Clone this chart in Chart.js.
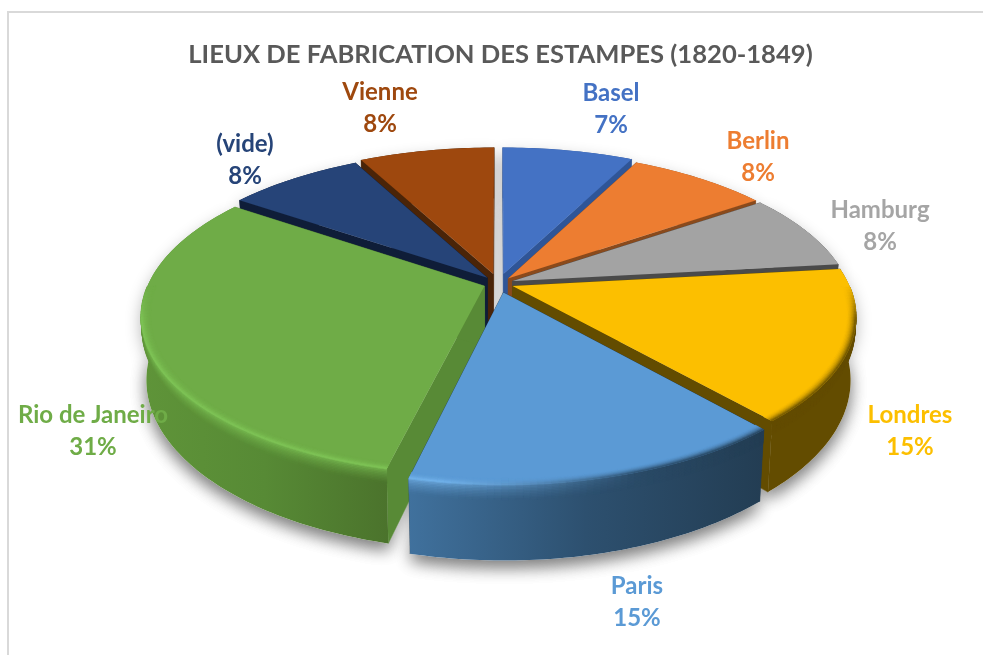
<!DOCTYPE html>
<html><head><meta charset="utf-8">
<style>html,body{margin:0;padding:0;background:#fff}canvas{display:block}</style>
<script src="https://cdn.jsdelivr.net/npm/chart.js@4"></script>
</head><body><canvas id="c" width="983" height="655"></canvas>
<script>
const categories = ['Basel','Berlin','Hamburg','Londres','Paris','Rio de Janeiro','(vide)','Vienne'];
const shares = [7.45,7.9,7.85,15.4,15.1,30.9,7.7,7.7];
const chartTitle = 'LIEUX DE FABRICATION DES ESTAMPES (1820-1849)';

const faceColors = ['#4472c4','#ed7d31','#a3a3a3','#fcbf00','#5b9ad5','#6fac47','#264478','#9e480e'];
const cutColors  = ['#2f5597','#8a4a1c','#4a4a4a','#634c00','#233d53','#588a36','#0f1d38','#4a2408'];
const wallStops  = [['#2f5597'],['#8a4a1c'],['#4a4a4a'],['#634c00'],['#40719d','#2d506f','#233d53'],
                    ['#5f9439','#578a35','#4b732c'],['#0f1d38'],['#4a2408']];
const rimLights  = ['#4472c4','#ed7d31','#a3a3a3','#634c00','#74b4ec','#7fc657','#264478','#9e480e'];
const explodeBy  = [22,15,15,15,20,15,17,22];
const labelCentres = [[611,92],[758,140],[880,209],[910,414],[637,585],[93,414],[245,143],[380,91]];

// view constants of the tilted drawing
const CX=498.5, CY=283.5, R0=336, PA=0.185/R0, PB=153/R0, DEPTH=61, FLOOR=0.985;
const total = shares.reduce((a,b)=>a+b,0);

const hex=h=>[1,3,5].map(i=>parseInt(h.substr(i,2),16));
const mix=(a,b,t)=>{const A=hex(a),B=hex(b);return '#'+A.map((v,i)=>Math.round(v+(B[i]-v)*t).toString(16).padStart(2,'0')).join('')};
const clamp=(v,a,b)=>Math.max(a,Math.min(b,v));
function project(px,py,z){const s=1/(1-PA*py);return [CX+s*px*(1-(1-FLOOR)*z), CY+PB*s*py+z*s*DEPTH];}
function stopColor(stops,t){ if(stops.length===1) return stops[0]; t=clamp(t,0,1)*(stops.length-1); const i=Math.min(Math.floor(t),stops.length-2); return mix(stops[i],stops[i+1],t-i);}

function drawFace(ctx,el,ex,ey,K){
  // top face: the library's own arc, drawn row by row under the perspective map
  let minY=1e9,maxY=-1e9;
  for(let t=0;t<=60;t++){const a=el.startAngle+(el.endAngle-el.startAngle)*t/60;
    const p=project(ex+R0*Math.cos(a),ey+R0*Math.sin(a),0);minY=Math.min(minY,p[1]);maxY=Math.max(maxY,p[1]);}
  const c=project(ex,ey,0);minY=Math.min(minY,c[1]);maxY=Math.max(maxY,c[1]);
  for(let Y=Math.floor(minY)-1;Y<=Math.ceil(maxY)+1;Y++){
    const u=Y+0.5-CY, py0=u/(PB+PA*u), s=1/(1-PA*py0), sl=PB*s*s;
    ctx.save();ctx.beginPath();ctx.rect(0,Y,983,1);ctx.clip();
    ctx.transform(s*K,0,0,sl*K,CX+s*ex-s*K*el.x,CY+u+sl*(ey-py0)-sl*K*el.y);
    el.draw(ctx);
    ctx.restore();
  }
}

const pie3d={id:'pie3d',
 beforeDraw(chart){const c=chart.ctx;c.save();c.fillStyle='#fff';c.fillRect(0,0,983,655);
   c.strokeStyle='#d9d9d9';c.lineWidth=2;c.strokeRect(8,12,1100,800);c.restore();},
 beforeDatasetsDraw(chart){
  const ctx=chart.ctx, arcs=chart.getDatasetMeta(0).data;
  const K=R0/arcs[0].outerRadius;
  const items=arcs.map((el,i)=>{const mid=(el.startAngle+el.endAngle)/2;
    return {el,i,mid,ex:explodeBy[i]*Math.cos(mid),ey:explodeBy[i]*Math.sin(mid)};});
  const order=[...items].sort((a,b)=>Math.sin(a.mid)-Math.sin(b.mid));
  const rimAt=(it,a,r,z)=>project(it.ex+r*Math.cos(a),it.ey+r*Math.sin(a),z);
  const rimPath=(it,z)=>{const out=[];const n=Math.ceil((it.el.endAngle-it.el.startAngle)*180/Math.PI);
    for(let t=0;t<=n;t++)out.push(rimAt(it,it.el.startAngle+(it.el.endAngle-it.el.startAngle)*t/n,R0,z));return out;};
  const poly=pts=>{ctx.beginPath();pts.forEach((p,i)=>i?ctx.lineTo(p[0],p[1]):ctx.moveTo(p[0],p[1]));ctx.closePath();};

  // soft ground shadow
  ctx.save();ctx.shadowColor='rgba(0,0,0,0.30)';ctx.shadowBlur=16;ctx.shadowOffsetY=7;ctx.fillStyle='#fff';
  items.forEach(it=>{const top=rimPath(it,0),bot=rimPath(it,1);
    poly([project(it.ex,it.ey,1),...bot]);ctx.fill();poly([...top,...bot.reverse()]);ctx.fill();});
  ctx.restore();

  order.forEach(it=>{
    const {el,i}=it, stops=wallStops[i];
    const top=rimPath(it,0),bot=rimPath(it,1);
    const xs=[...top,...bot].map(p=>p[0]);const x0=Math.min(...xs),x1=Math.max(...xs);
    const wallAt=x=>stopColor(stops,(x-x0)/Math.max(1,x1-x0));
    const a0=project(it.ex,it.ey,0),a1=project(it.ex,it.ey,1);
    ctx.fillStyle=cutColors[i];ctx.strokeStyle=cutColors[i];ctx.lineWidth=0.5;
    [0,top.length-1].forEach(k=>{poly([a0,top[k],bot[k],a1]);ctx.fill();ctx.stroke();});
    const g=ctx.createLinearGradient(x0,0,x1,0);
    stops.forEach((c,k)=>g.addColorStop(stops.length>1?k/(stops.length-1):0,c));
    ctx.fillStyle=g;poly([...top,...[...bot].reverse()]);ctx.fill();
    // bevel bands under the rim
    const seg=(pa,pb,pc,pd,col)=>{ctx.fillStyle=col;ctx.strokeStyle=col;ctx.lineWidth=0.6;poly([pa,pb,pc,pd]);ctx.fill();ctx.stroke();};
    const N=top.length-1, da=(el.endAngle-el.startAngle)/N, Z=0.2, ZN=10;
    const bevelTarget=(a)=>{const p=rimAt(it,a,R0,0);const f=clamp(Math.sin(a)/0.22,0,1);
      const lit=clamp((640-p[0])/200,0,1);return {f,lit,x:p[0]};};
    for(let k=0;k<N;k++){const a=el.startAngle+k*da,b=a+da,m=(a+b)/2,T=bevelTarget(m);if(T.f<=0)continue;
      const w=wallAt(T.x),tgt=mix(w,rimLights[i],T.lit);
      for(let j=0;j<ZN;j++){const t=(j+0.5)/ZN;
        seg(rimAt(it,a,R0,Z*j/ZN),rimAt(it,b,R0,Z*j/ZN),rimAt(it,b,R0,Z*(j+1)/ZN),rimAt(it,a,R0,Z*(j+1)/ZN),mix(mix(w,tgt,T.f),w,Math.sqrt(t)));}
    }
    drawFace(ctx,el,it.ex,it.ey,K);
    const W=0.028, WN=8;
    for(let k=0;k<N;k++){const a=el.startAngle+k*da,b=a+da,m=(a+b)/2,T=bevelTarget(m);if(T.f<=0)continue;
      const w=wallAt(T.x),tgt=mix(w,rimLights[i],T.lit);
      for(let j=0;j<WN;j++){const r0=R0*(1-W*(1-j/WN)),r1=R0*(1-W*(1-(j+1)/WN)),t=(j+0.5)/WN;
        seg(rimAt(it,a,r0,0),rimAt(it,b,r0,0),rimAt(it,b,r1,0),rimAt(it,a,r1,0),mix(faceColors[i],tgt,t*t*T.f));}
    }
  });

  // data labels
  ctx.save();ctx.font='bold 24px Lato';ctx.textAlign='center';ctx.textBaseline='middle';
  categories.forEach((name,i)=>{const [x,y]=labelCentres[i];
    ctx.fillStyle=faceColors[i]==='#a3a3a3'?'#a5a5a5':faceColors[i];
    ctx.fillText(name,x,y+1);ctx.fillText(Math.round(shares[i]/total*100)+'%',x,y+33);});
  ctx.restore();
  return false;
 }
};

new Chart(document.getElementById('c'),{
  type:'pie',
  data:{labels:categories,datasets:[{data:shares,backgroundColor:faceColors,borderWidth:0}]},
  options:{responsive:false,animation:false,events:[],
    layout:{padding:{left:18,top:39}},
    plugins:{legend:{display:false},tooltip:{enabled:false},
      title:{display:true,text:chartTitle,color:'#595959',font:{family:'Lato',size:25.6,weight:'bold'},padding:{top:0,bottom:8}}}},
  plugins:[pie3d]
});
</script></body></html>
